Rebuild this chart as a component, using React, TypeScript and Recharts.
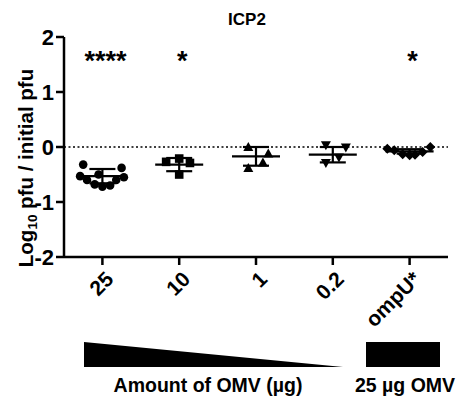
import React from 'react'
import { ScatterChart, Scatter, XAxis, YAxis, ReferenceLine, ErrorBar } from 'recharts'

// group labels (x categories)
const groups = ['25', '10', '1', '0.2', 'ompU*']

// individual replicates: [offset within group, log10 pfu / initial pfu]
const omv25 = [
  [-0.25, -0.32], [-0.29, -0.53], [-0.2, -0.6], [-0.1, -0.68], [0.0, -0.72],
  [0.1, -0.7], [0.18, -0.6], [0.25, -0.38], [0.28, -0.55], [-0.05, -0.5],
]
const omv10 = [[-0.17, -0.27], [0.0, -0.21], [0.14, -0.29], [0.0, -0.5]]
const omv1 = [[-0.1, 0.0], [0.16, -0.12], [0.09, -0.28], [-0.1, -0.38]]
const omv02 = [[-0.09, 0.03], [0.17, -0.01], [0.08, -0.19], [-0.09, -0.29]]
const ompU = [[-0.29, -0.03], [-0.2, -0.06], [-0.09, -0.13], [0.0, -0.15], [0.07, -0.14], [0.17, -0.09], [0.27, 0.0]]

// mean and SD per group
const means = [-0.53, -0.32, -0.17, -0.14, -0.08]
const sds = [0.13, 0.12, 0.17, 0.14, 0.04]

// significance marks
const stars = ['****', '*', '', '', '*']

const yTicks = [-2, -1, 0, 1, 2]

const FONT = '"Liberation Sans", Arial, sans-serif'

const toPoints = (rows: number[][], g: number) => rows.map(([dx, y]) => ({ x: g + dx, y }))

const meanData = means.map((m, i) => ({ x: i, y: m, sd: sds[i] }))
const starData = stars.map((s, i) => ({ x: i, y: 1.4, label: s }))

const Circle = (p: any) => <circle cx={p.cx} cy={p.cy} r={4.3} fill="#000" />
const Square = (p: any) => <rect x={p.cx - 4.3} y={p.cy - 4.3} width={8.6} height={8.6} fill="#000" />
const TriUp = (p: any) => (
  <polygon points={`${p.cx},${p.cy - 5} ${p.cx - 5},${p.cy + 4} ${p.cx + 5},${p.cy + 4}`} fill="#000" />
)
const TriDown = (p: any) => (
  <polygon points={`${p.cx},${p.cy + 5} ${p.cx - 5},${p.cy - 4} ${p.cx + 5},${p.cy - 4}`} fill="#000" />
)
const Diamond = (p: any) => (
  <polygon points={`${p.cx},${p.cy - 5} ${p.cx + 5},${p.cy} ${p.cx},${p.cy + 5} ${p.cx - 5},${p.cy}`} fill="#000" />
)
const MeanLine = (p: any) => (
  <line x1={p.cx - 24} x2={p.cx + 24} y1={p.cy} y2={p.cy} stroke="#000" strokeWidth={2.2} />
)
const Star = (p: any) => (
  <text x={p.cx + 3} y={p.cy} textAnchor="middle" fontFamily={FONT} fontWeight="bold" fontSize={27} fill="#000">
    {p.payload.label}
  </text>
)

const XTick = ({ x, y, payload }: any) => (
  <g transform={`translate(${x + 2},${y + 3})`}>
    <text textAnchor="end" transform="rotate(-45)" dy="0.7em" fontFamily={FONT} fontWeight="bold" fontSize={21} fill="#000">
      {groups[payload.value]}
    </text>
  </g>
)

export default function App() {
  return (
    <div style={{ position: 'absolute', left: 0, top: 0, width: 457, height: 396, background: '#fff' }}>
      <ScatterChart width={457} height={396} margin={{ top: 37, right: 9, bottom: 79, left: 14 }}>
        <XAxis
          type="number"
          dataKey="x"
          domain={[-0.5, 4.5]}
          ticks={[0, 1, 2, 3, 4]}
          height={60}
          tick={<XTick />}
          tickSize={8}
          axisLine={{ stroke: '#000', strokeWidth: 2.5 }}
          tickLine={{ stroke: '#000', strokeWidth: 2.5 }}
          interval={0}
        />
        <YAxis
          type="number"
          dataKey="y"
          domain={[-2, 2]}
          ticks={yTicks}
          width={50}
          tickSize={8}
          tickMargin={2}
          tick={{ fontSize: 22, fontWeight: 'bold', fill: '#000', fontFamily: FONT }}
          axisLine={{ stroke: '#000', strokeWidth: 2.5 }}
          tickLine={{ stroke: '#000', strokeWidth: 2.5 }}
        />
        <ReferenceLine y={0} stroke="#000" strokeWidth={1.5} strokeDasharray="2 2.5" />
        <Scatter data={toPoints(omv25, 0)} shape={Circle} isAnimationActive={false} />
        <Scatter data={toPoints(omv10, 1)} shape={Square} isAnimationActive={false} />
        <Scatter data={toPoints(omv1, 2)} shape={TriUp} isAnimationActive={false} />
        <Scatter data={toPoints(omv02, 3)} shape={TriDown} isAnimationActive={false} />
        <Scatter data={toPoints(ompU, 4)} shape={Diamond} isAnimationActive={false} />
        <Scatter data={meanData} shape={MeanLine} isAnimationActive={false}>
          <ErrorBar dataKey="sd" direction="y" width={13} stroke="#000" strokeWidth={2.2} />
        </Scatter>
        <Scatter data={starData} shape={Star} isAnimationActive={false} />
      </ScatterChart>
      <svg width={457} height={396} style={{ position: 'absolute', left: 0, top: 0, pointerEvents: 'none' }}>
        <text x={247} y={25} textAnchor="middle" fontFamily={FONT} fontWeight="bold" fontSize={17} fill="#000">ICP2</text>
        <text transform="translate(33,168) rotate(-90)" textAnchor="middle" fontFamily={FONT} fontWeight="bold" fontSize={20.5} fill="#000">
          Log<tspan fontSize={13.5} dy={4}>10</tspan><tspan dy={-4}> pfu / initial pfu</tspan>
        </text>
        <polygon points="84,342 84,367 343,367" fill="#000" />
        <rect x={366} y={342} width={74} height={25} fill="#000" />
        <text x={208} y={392} textAnchor="middle" fontFamily={FONT} fontWeight="bold" fontSize={19.5} fill="#000">Amount of OMV (µg)</text>
        <text x={405} y={392} textAnchor="middle" fontFamily={FONT} fontWeight="bold" fontSize={19.5} fill="#000">25 µg OMV</text>
      </svg>
    </div>
  )
}
